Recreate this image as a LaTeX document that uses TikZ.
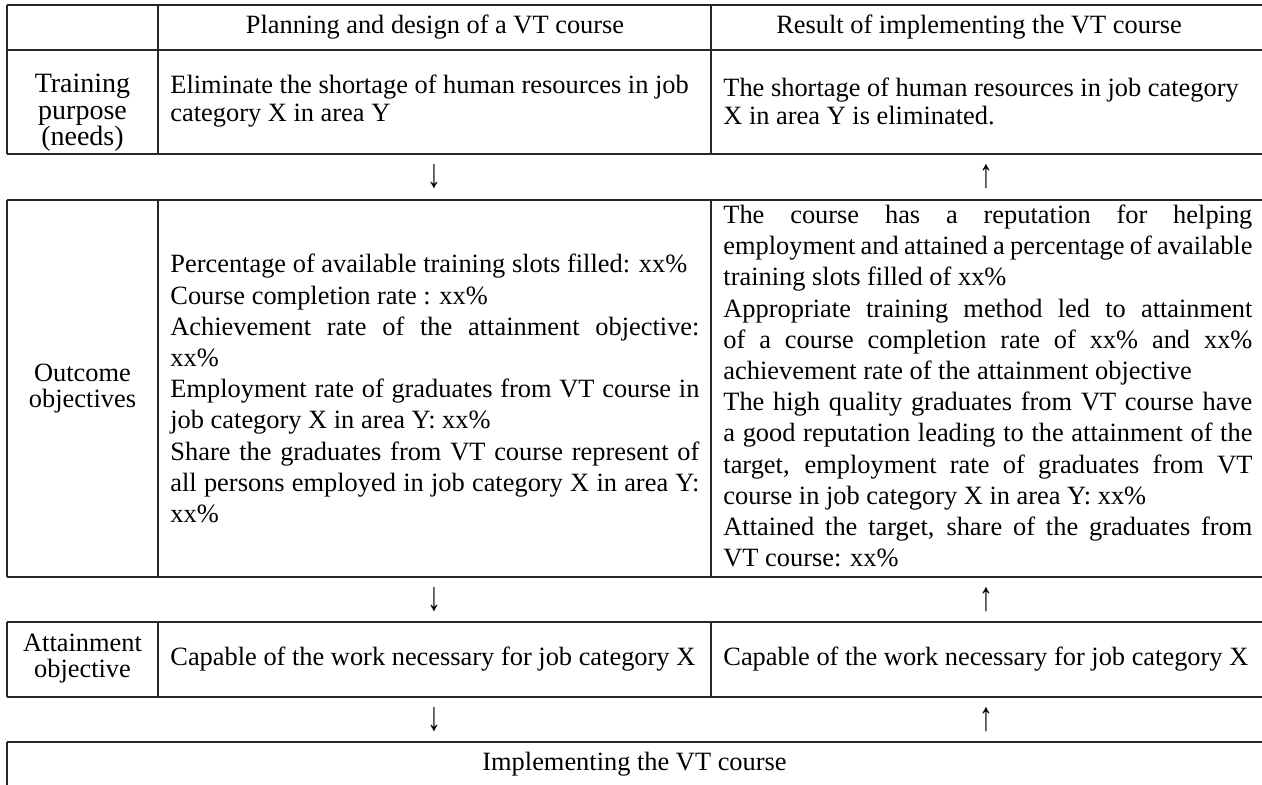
\documentclass[tikz,border=0pt]{standalone}
\usepackage{fontspec}
\usepackage{graphicx}
\setmainfont{Liberation Serif}
% width of the text block inside a content cell
\newlength\colw
\setlength\colw{264.5pt}
% a justified line spread over the full cell width
\newcommand\jline[1]{\makebox[\colw][s]{#1}}
% tall, thin flow arrows
\newcommand\flowdown{\scalebox{1.05}[1.55]{↓}}
\newcommand\flowup{\scalebox{1.05}[1.55]{↑}}
\begin{document}
\begin{tikzpicture}[x=0.5pt,y=-0.5pt,
  gridline/.style={line width=0.9pt,draw=black!85},
  txt/.style={font=\fontsize{13.2pt}{15.6pt}\selectfont,inner sep=0pt},
  rowhead/.style={txt,align=center,font=\fontsize{13.2pt}{13.2pt}\selectfont},
  body/.style={txt,align=left,anchor=west}]
\useasboundingbox (0,0) rectangle (1262,785);

% horizontal rules
\foreach \y in {5,50,154,200,577,622,697,742}
  \draw[gridline] (7,\y) -- (1262,\y);
% vertical rules of the three framed bands
\foreach \x in {7,158,711}{
  \draw[gridline] (\x,5) -- (\x,154);
  \draw[gridline] (\x,200) -- (\x,577);
  \draw[gridline] (\x,622) -- (\x,697);
}
\draw[gridline] (7,742) -- (7,785);

% column headings
\node[txt] (hplan) at (435,27.5) {Planning and design of a VT course};
\node[txt] (hres)  at (979,27.5) {Result of implementing the VT course};

% training purpose
\node[rowhead,font=\fontsize{14pt}{13.3pt}\selectfont] (purpose) at (82.5,113)
  {Training\\purpose\\(needs)};
\node[body,font=\fontsize{13.2pt}{14pt}\selectfont] (purposeplan) at (170,101)
  {Eliminate the shortage of human resources in job\\category X in area Y};
\node[body,font=\fontsize{13.2pt}{14pt}\selectfont] (purposeres) at (723,101)
  {The shortage of human resources in job category\\X in area Y is eliminated.};

\node[txt] (d1) at (434.5,177) {\flowdown};
\node[txt] (u1) at (986.5,177) {\flowup};

% outcome objectives
\node[rowhead] (outcome) at (82.5,388.5) {Outcome\\objectives};
\node[body] (outcomeplan) at (170,388.5)
  {Percentage of available training slots filled: xx\%\\
   Course completion rate : xx\%\\
   \jline{Achievement rate of the attainment objective:}\\
   xx\%\\
   \jline{Employment rate of graduates from VT course in}\\
   job category X in area Y: xx\%\\
   \jline{Share the graduates from VT course represent of}\\
   \jline{all persons employed in job category X in area Y:}\\
   xx\%};
\node[body] (outcomeres) at (723,386)
  {\jline{The course has a reputation for helping}\\
   \jline{employment and attained a percentage of available}\\
   training slots filled of xx\%\\
   \jline{Appropriate training method led to attainment}\\
   \jline{of a course completion rate of xx\% and xx\%}\\
   achievement rate of the attainment objective\\
   \jline{The high quality graduates from VT course have}\\
   \jline{a good reputation leading to the attainment of the}\\
   \jline{target, employment rate of graduates from VT}\\
   course in job category X in area Y: xx\%\\
   \jline{Attained the target, share of the graduates from}\\
   VT course: xx\%};

\node[txt] (d2) at (434.5,599.5) {\flowdown};
\node[txt] (u2) at (986.5,599.5) {\flowup};

% attainment objective
\node[rowhead] (attain) at (82.5,658.5) {Attainment\\objective};
\node[body] (attainplan) at (170,659.5) {Capable of the work necessary for job category X};
\node[body] (attainres) at (723,659.5) {Capable of the work necessary for job category X};

\node[txt] (d3) at (434.5,719.5) {\flowdown};
\node[txt] (u3) at (986.5,719.5) {\flowup};

% implementation
\node[txt] (impl) at (634.5,764) {Implementing the VT course};
\end{tikzpicture}
\end{document}
